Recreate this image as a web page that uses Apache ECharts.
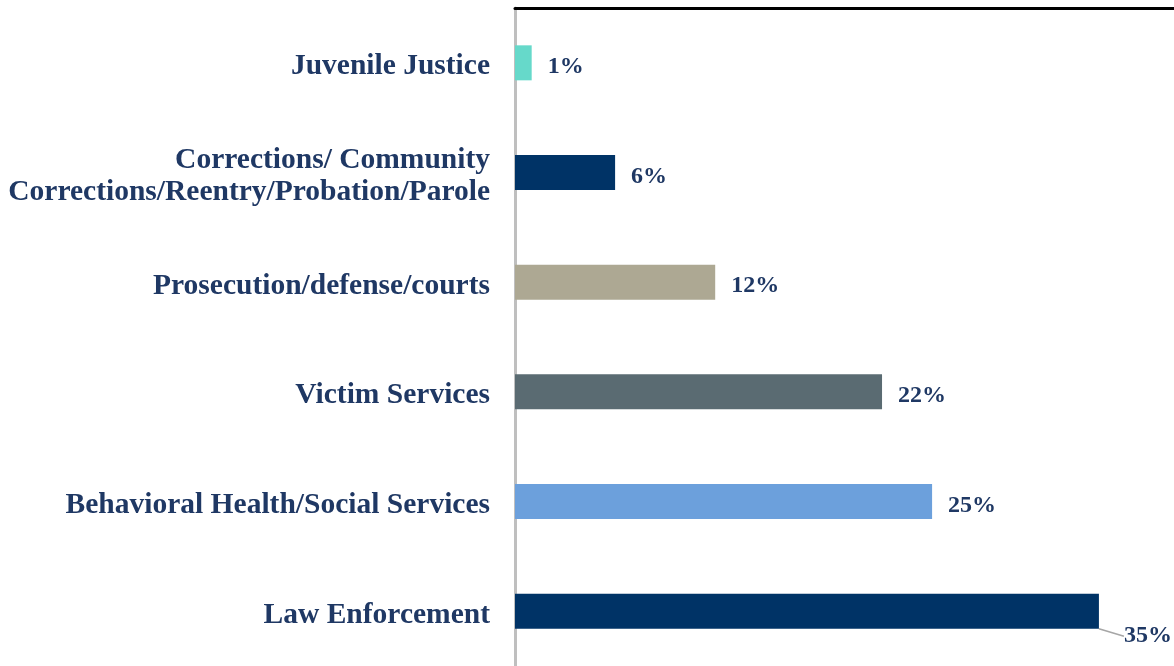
<!DOCTYPE html>
<html>
<head>
<meta charset="utf-8">
<script src="https://cdn.jsdelivr.net/npm/echarts@6/dist/echarts.min.js"></script>
<style>
  html, body { margin: 0; padding: 0; background: #ffffff; }
  #chart { width: 1174px; height: 666px; }
</style>
</head>
<body>
<div id="chart"></div>
<script>
// Categories listed bottom to top (category axis starts at the bottom)
const categories = [
  'Law Enforcement',
  'Behavioral Health/Social Services',
  'Victim Services',
  'Prosecution/defense/courts',
  'Corrections/ Community\nCorrections/Reentry/Probation/Parole',
  'Juvenile Justice'
];
const shares = [35, 25, 22, 12, 6, 1];
const barColors = ['#003366', '#6CA0DC', '#5A6B72', '#ADA893', '#003366', '#66D9CA'];

const textColor = '#1F3864';
const fontFamily = '"Liberation Serif", "Times New Roman", serif';

const catFont = {
  color: textColor,
  fontFamily: fontFamily,
  fontWeight: 'bold',
  fontSize: 29.5,
  lineHeight: 33
};

const chart = echarts.init(document.getElementById('chart'));
chart.setOption({
  animation: false,
  grid: { left: 515, top: 8, right: 0, height: 660, containLabel: false },
  xAxis: {
    type: 'value',
    position: 'top',
    min: 0,
    max: 39.5,
    axisLine: { show: true, lineStyle: { color: '#000000', width: 3 } },
    axisTick: { show: false },
    axisLabel: { show: false },
    splitLine: { show: false }
  },
  yAxis: {
    type: 'category',
    data: categories,
    axisLine: { show: true, lineStyle: { color: '#BFBFBF', width: 3 } },
    axisTick: { show: false },
    axisLabel: Object.assign({
      margin: 25,
      align: 'right',
      // top padding on each line nudges the text block slightly lower
      formatter: function (value) {
        return value.split('\n')
          .map((line, i) => (i === 0 ? '{first|' : '{rest|') + line + '}')
          .join('\n');
      },
      rich: {
        first: Object.assign({ padding: [8, 0, 0, 0] }, catFont),
        rest: Object.assign({ padding: [7, 0, 0, 0] }, catFont)
      }
    }, catFont)
  },
  series: [{
    type: 'bar',
    data: shares.map((v, i) => ({
      value: v,
      itemStyle: { color: barColors[i] },
      // the longest bar carries its label below-right with a leader line
      labelLine: { show: i === 0, lineStyle: { color: '#A6A6A6', width: 1.5 } }
    })),
    barWidth: 35,
    label: {
      show: true,
      position: 'right',
      distance: 16,
      formatter: '{c}%',
      color: textColor,
      fontFamily: fontFamily,
      fontWeight: 'bold',
      fontSize: 24
    },
    labelLayout: function (params) {
      if (params.dataIndex === 0) {
        return { dx: 9, dy: 25 };
      }
      return { dy: 4 };
    }
  }]
});
</script>
</body>
</html>
